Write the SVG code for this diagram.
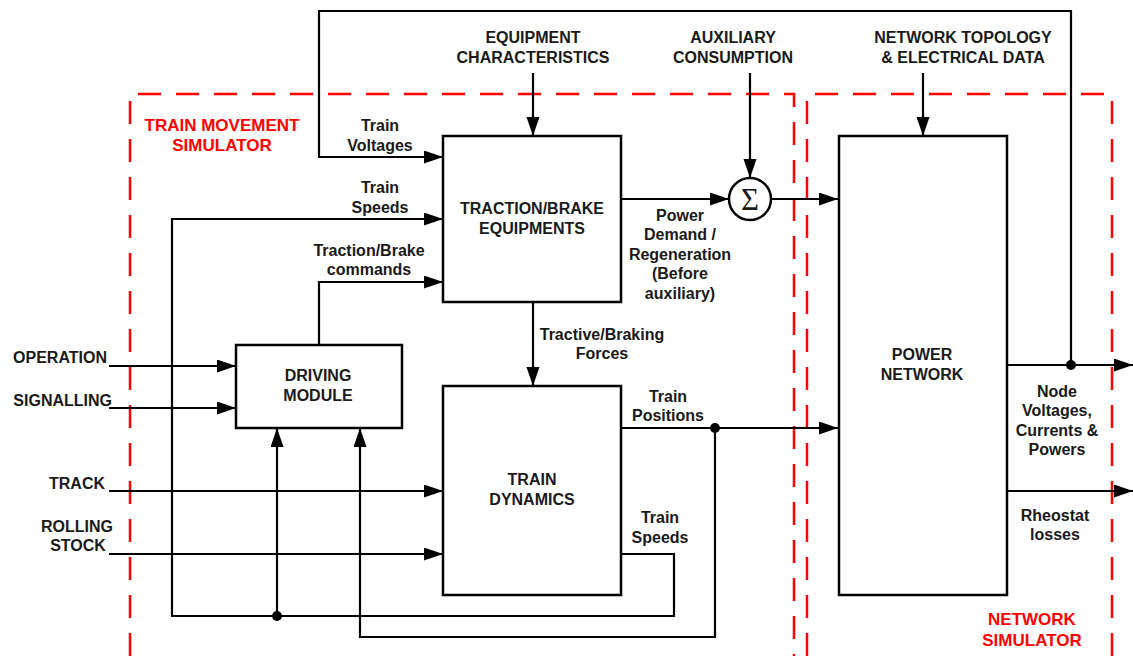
<svg xmlns="http://www.w3.org/2000/svg" width="1133" height="656" viewBox="0 0 1133 656">
<style>
text{font-family:"Liberation Sans",Arial,sans-serif;font-weight:bold;font-size:16px;fill:#1a1a1a;text-anchor:middle}
.red{fill:#ff0000;font-size:17px}
.box{fill:#fff;stroke:#000;stroke-width:2.5}
.ln{fill:none;stroke:#000;stroke-width:2.2}
.arr{marker-end:url(#ah)}
.dash{fill:none;stroke:#ff0000;stroke-width:2.5;stroke-dasharray:23 15}
.dot{fill:#000}
</style>
<defs>
<marker id="ah" markerUnits="userSpaceOnUse" markerWidth="20" markerHeight="14" refX="19" refY="6.5" orient="auto">
<path d="M0,0 L19,6.5 L0,13 z" fill="#000"/>
</marker>
</defs>
<rect width="1133" height="656" fill="#fff"/>
<g id="regions">
<path class="dash" d="M130,656 V94 H794 V656"/>
<path class="dash" d="M807,656 V94 H1112 V656"/>
<text class="red" x="222" y="131">TRAIN MOVEMENT</text>
<text class="red" x="222" y="151">SIMULATOR</text>
<text class="red" x="1032" y="625">NETWORK</text>
<text class="red" x="1032" y="646">SIMULATOR</text>
</g>
<g id="connectors">
<path class="ln arr" d="M1071,365 V11 H319 V157 H443"/>
<path class="ln arr" d="M621,554 H674 V616 H172 V219 H443"/>
<path class="ln arr" d="M277,616 V428"/>
<path class="ln arr" d="M621,428 H838"/>
<path class="ln arr" d="M715,428 V637 H360 V428"/>
<path class="ln arr" d="M319,345 V282 H443"/>
<path class="ln arr" d="M109,366 H236"/>
<path class="ln arr" d="M109,408 H236"/>
<path class="ln arr" d="M109,491 H443"/>
<path class="ln arr" d="M109,554 H443"/>
<path class="ln arr" d="M533,73 V136"/>
<path class="ln arr" d="M533,302 V386"/>
<path class="ln arr" d="M750,73 V178"/>
<path class="ln arr" d="M923,73 V136"/>
<path class="ln arr" d="M621,199 H729"/>
<path class="ln arr" d="M771,199 H838"/>
<path class="ln arr" d="M1007,365 H1133"/>
<path class="ln arr" d="M1007,491 H1133"/>
<circle class="dot" cx="1071" cy="365" r="5"/>
<circle class="dot" cx="277" cy="616" r="5"/>
<circle class="dot" cx="715" cy="428" r="5"/>
<text x="380" y="131">Train</text>
<text x="380" y="151">Voltages</text>
<text x="380" y="193">Train</text>
<text x="380" y="213">Speeds</text>
<text x="369" y="256">Traction/Brake</text>
<text x="369" y="275">commands</text>
<text x="680" y="221">Power</text>
<text x="680" y="240">Demand /</text>
<text x="680" y="260">Regeneration</text>
<text x="680" y="279">(Before</text>
<text x="680" y="299">auxiliary)</text>
<text x="602" y="340">Tractive/Braking</text>
<text x="602" y="359">Forces</text>
<text x="668" y="402">Train</text>
<text x="668" y="421">Positions</text>
<text x="660" y="523">Train</text>
<text x="660" y="543">Speeds</text>
<text x="1057" y="397">Node</text>
<text x="1057" y="416">Voltages,</text>
<text x="1057" y="436">Currents &amp;</text>
<text x="1057" y="455">Powers</text>
<text x="1055" y="521">Rheostat</text>
<text x="1055" y="540">losses</text>
</g>
<g id="inputs">
<text x="533" y="43">EQUIPMENT</text>
<text x="533" y="63">CHARACTERISTICS</text>
<text x="733" y="43">AUXILIARY</text>
<text x="733" y="63">CONSUMPTION</text>
<text x="963" y="43">NETWORK TOPOLOGY</text>
<text x="963" y="63">&amp; ELECTRICAL DATA</text>
<text x="107" y="363" style="text-anchor:end">OPERATION</text>
<text x="112" y="406" style="text-anchor:end">SIGNALLING</text>
<text x="105" y="489" style="text-anchor:end">TRACK</text>
<text x="77" y="532">ROLLING</text>
<text x="78" y="551">STOCK</text>
</g>
<g id="traction">
<rect class="box" x="443" y="136" width="178" height="166"/>
<text x="532" y="214">TRACTION/BRAKE</text>
<text x="532" y="234">EQUIPMENTS</text>
</g>
<g id="dynamics">
<rect class="box" x="443" y="386" width="178" height="209"/>
<text x="532" y="485">TRAIN</text>
<text x="532" y="505">DYNAMICS</text>
</g>
<g id="driving">
<rect class="box" x="236" y="345" width="166" height="83"/>
<text x="318" y="381">DRIVING</text>
<text x="318" y="401">MODULE</text>
</g>
<g id="sum">
<circle cx="750" cy="199" r="21" fill="#fff" stroke="#000" stroke-width="2.5"/>
<text x="750" y="210" style="font-family:'Liberation Serif','Times New Roman',serif;font-weight:normal;font-size:31px">Σ</text>
</g>
<g id="power">
<rect class="box" x="839" y="136" width="168" height="459"/>
<text x="922" y="360">POWER</text>
<text x="922" y="380">NETWORK</text>
</g>
</svg>
